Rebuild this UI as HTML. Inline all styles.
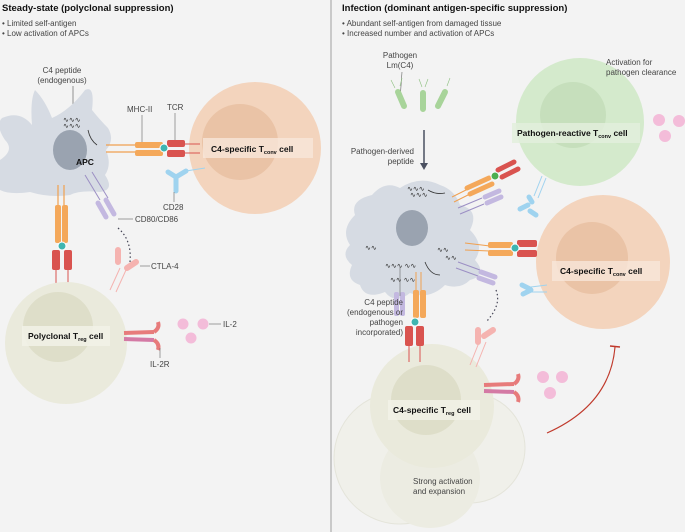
<!DOCTYPE html>
<html><head><meta charset="utf-8"><style>
html,body{margin:0;padding:0;background:#f3f3f3}
svg{display:block}
text{font-family:"Liberation Sans",sans-serif;fill:#333}
.t{font-size:9.5px;font-weight:bold;fill:#111}
.s{font-size:8px;fill:#444}
.b{font-size:8.5px;font-weight:bold;fill:#111}
</style></head><body>
<svg width="685" height="532" viewBox="0 0 685 532" xmlns="http://www.w3.org/2000/svg">
<rect width="685" height="532" fill="#f3f3f3"/>
<line x1="331" y1="0" x2="331" y2="532" stroke="#bbb" stroke-width="1.5"/>

<!-- LEFT -->
<text class="t" x="2" y="11">Steady-state (polyclonal suppression)</text>
<text class="s" x="2" y="26">• Limited self-antigen</text>
<text class="s" x="2" y="36">• Low activation of APCs</text>

<text class="s" x="62" y="73" text-anchor="middle">C4 peptide</text>
<text class="s" x="62" y="83" text-anchor="middle">(endogenous)</text>
<line x1="73" y1="86" x2="73" y2="118" stroke="#666" stroke-width="0.7"/>

<!-- APC left -->
<path d="M2,118 Q20,110 32,125 Q30,100 35,90 Q45,100 52,118 Q70,110 85,90 Q95,85 92,110 Q100,120 108,128 Q115,140 106,150 Q112,165 105,175 Q115,190 100,192 Q80,190 70,195 Q50,198 30,192 Q10,195 0,190 L0,160 Q15,150 5,140 Q-5,125 2,118Z" fill="#d6dbe3"/>
<ellipse cx="70" cy="150" rx="17" ry="20" fill="#9aa3b0"/>
<text class="b" x="76" y="165">APC</text>
<text x="63" y="122" font-size="7" fill="#a06b4b">∿∿∿</text>
<text x="63" y="128" font-size="7" fill="#a06b4b">∿∿∿</text>
<path d="M88,130 Q90,140 97,145" fill="none" stroke="#333" stroke-width="0.8"/>

<!-- Tconv left -->
<circle cx="255" cy="148" r="66" fill="#f3d4bd"/>
<circle cx="240" cy="142" r="38" fill="#eac3a6"/>
<rect x="203" y="138" width="110" height="20" fill="#f7e6d9" opacity="0.8"/>
<text class="b" x="211" y="152">C4-specific T<tspan font-size="5.5" dy="2">conv</tspan><tspan dy="-2"> cell</tspan></text>

<!-- MHC/TCR horizontal -->
<line x1="106" y1="145" x2="135" y2="145" stroke="#f0a050" stroke-width="1.2"/>
<line x1="106" y1="152" x2="135" y2="152" stroke="#f0a050" stroke-width="1.2"/>
<rect x="135" y="142" width="28" height="6" rx="2" fill="#f4a85a"/>
<rect x="135" y="150" width="28" height="6" rx="2" fill="#f4a85a"/>
<rect x="167" y="140" width="18" height="7" rx="2" fill="#d9534f"/>
<rect x="167" y="150" width="18" height="7" rx="2" fill="#d9534f"/>
<line x1="185" y1="144" x2="200" y2="144" stroke="#d9534f" stroke-width="1"/>
<line x1="185" y1="153" x2="200" y2="153" stroke="#d9534f" stroke-width="1"/>
<circle cx="164" cy="148" r="4" fill="#3fb5b0" stroke="#fff" stroke-width="1"/>
<text class="s" x="127" y="112">MHC-II</text>
<text class="s" x="167" y="110">TCR</text>
<line x1="142" y1="115" x2="142" y2="142" stroke="#666" stroke-width="0.6"/>
<line x1="175" y1="113" x2="175" y2="140" stroke="#666" stroke-width="0.6"/>

<!-- CD28 -->
<path d="M168,172 l8,5 l0,14 M176,177 l10,-6" stroke="#9fd3ef" stroke-width="5" fill="none" stroke-linecap="round"/>
<line x1="186" y1="171" x2="205" y2="168" stroke="#9fd3ef" stroke-width="1"/>
<text class="s" x="163" y="210">CD28</text>
<line x1="174" y1="192" x2="174" y2="202" stroke="#666" stroke-width="0.6"/>
<!-- CD80 -->
<line x1="85" y1="175" x2="100" y2="200" stroke="#9c8fc4" stroke-width="1"/>
<line x1="92" y1="172" x2="108" y2="198" stroke="#9c8fc4" stroke-width="1"/>
<path d="M98,203 l8,14 M106,200 l8,14" stroke="#c3b8e0" stroke-width="5" stroke-linecap="round"/>
<line x1="118" y1="219" x2="133" y2="219" stroke="#666" stroke-width="0.6"/>
<text class="s" x="135" y="222">CD80/CD86</text>
<path d="M118,228 Q132,240 130,262" fill="none" stroke="#445" stroke-width="1.2" stroke-dasharray="1.5,2.5"/>

<!-- vertical MHC/TCR -->
<line x1="58" y1="185" x2="58" y2="205" stroke="#f0a050" stroke-width="1.2"/>
<line x1="64" y1="185" x2="64" y2="205" stroke="#f0a050" stroke-width="1.2"/>
<rect x="55" y="205" width="6" height="38" rx="2" fill="#f4a85a"/>
<rect x="62" y="205" width="6" height="38" rx="2" fill="#f4a85a"/>
<rect x="52" y="250" width="8" height="20" rx="2" fill="#d9534f"/>
<rect x="64" y="250" width="8" height="20" rx="2" fill="#d9534f"/>
<line x1="56" y1="270" x2="56" y2="288" stroke="#d9534f"/>
<line x1="68" y1="270" x2="68" y2="288" stroke="#d9534f"/>
<circle cx="62" cy="246" r="4" fill="#3fb5b0" stroke="#fff" stroke-width="1"/>

<!-- Treg left -->
<circle cx="66" cy="343" r="61" fill="#eaeadc"/>
<circle cx="58" cy="327" r="35" fill="#dedec9"/>
<rect x="22" y="326" width="88" height="20" fill="#f2f2e8" opacity="0.85"/>
<text class="b" x="28" y="339">Polyclonal T<tspan font-size="5.5" dy="2">reg</tspan><tspan dy="-2"> cell</tspan></text>

<!-- CTLA-4 -->
<path d="M118,250 l0,12 M127,268 l9,-6" stroke="#f5b3b0" stroke-width="6" stroke-linecap="round"/>
<path d="M120,268 l-10,22 M126,270 l-10,22" stroke="#f5b3b0" stroke-width="1"/>
<line x1="140" y1="266" x2="150" y2="266" stroke="#666" stroke-width="0.6"/>
<text class="s" x="151" y="269">CTLA-4</text>
<!-- IL-2R -->
<path d="M124,333 l30,-1" stroke="#e77b7b" stroke-width="4"/>
<path d="M124,339 l30,1" stroke="#d47aa5" stroke-width="4"/>
<path d="M154,332 q6,-4 4,-10 M154,340 q6,4 4,10" stroke="#e77b7b" stroke-width="4" fill="none"/>
<line x1="160" y1="348" x2="160" y2="358" stroke="#666" stroke-width="0.6"/>
<text class="s" x="150" y="367">IL-2R</text>
<circle cx="183" cy="324" r="5.5" fill="#f3bcd9"/>
<circle cx="203" cy="324" r="5.5" fill="#f3bcd9"/>
<circle cx="191" cy="338" r="5.5" fill="#f3bcd9"/>
<line x1="209" y1="324" x2="221" y2="324" stroke="#666" stroke-width="0.6"/>
<text class="s" x="223" y="327">IL-2</text>

<!-- RIGHT -->
<text class="t" x="342" y="11">Infection (dominant antigen-specific suppression)</text>
<text class="s" x="342" y="26">• Abundant self-antigen from damaged tissue</text>
<text class="s" x="342" y="36">• Increased number and activation of APCs</text>
<text class="s" x="400" y="58" text-anchor="middle">Pathogen</text>
<text class="s" x="400" y="68" text-anchor="middle">Lm(C4)</text>
<line x1="402" y1="72" x2="400" y2="100" stroke="#666" stroke-width="0.6"/>
<path d="M398,92 l6,14 M423,93 l0,16 M445,92 l-7,14" stroke="#a8d49a" stroke-width="6" stroke-linecap="round"/>
<path d="M395,88 l-4,-8 M400,86 l2,-8 M422,87 l-3,-8 M425,87 l3,-8 M447,86 l3,-8" stroke="#8bbf7e" stroke-width="0.6"/>
<line x1="424" y1="130" x2="424" y2="165" stroke="#4a5060" stroke-width="1.5"/>
<path d="M420,163 l4,7 l4,-7z" fill="#4a5060"/>

<!-- green cell -->
<circle cx="580" cy="122" r="64" fill="#d4eacc"/>
<circle cx="573" cy="115" r="33" fill="#c6dfbc"/>
<rect x="512" y="123" width="128" height="20" fill="#e2efdc" opacity="0.85"/>
<text class="b" x="517" y="136">Pathogen-reactive T<tspan font-size="5.5" dy="2">conv</tspan><tspan dy="-2"> cell</tspan></text>
<text class="s" x="606" y="65">Activation for</text>
<text class="s" x="606" y="75">pathogen clearance</text>
<circle cx="659" cy="120" r="6" fill="#f3bcd9"/>
<circle cx="679" cy="121" r="6" fill="#f3bcd9"/>
<circle cx="665" cy="136" r="6" fill="#f3bcd9"/>

<text class="s" x="414" y="154" text-anchor="end">Pathogen-derived</text>
<text class="s" x="414" y="164" text-anchor="end">peptide</text>

<!-- APC right -->
<path d="M355,215 Q350,200 372,195 Q385,180 400,188 Q420,175 440,185 Q455,190 460,205 Q480,210 470,230 Q485,245 475,260 Q488,275 470,280 Q460,290 445,285 Q430,300 410,293 Q395,305 385,292 Q365,300 360,285 Q345,280 352,265 Q340,255 350,245 Q340,230 355,215Z" fill="#d6dbe3"/>
<ellipse cx="412" cy="228" rx="16" ry="18" fill="#9aa3b0"/>
<text x="407" y="191" font-size="7" fill="#4a9a5a">∿∿∿</text>
<text x="410" y="197" font-size="7" fill="#4a9a5a">∿∿∿</text>
<text x="437" y="252" font-size="7" fill="#a06b4b">∿∿</text>
<text x="445" y="260" font-size="7" fill="#a06b4b">∿∿</text>
<text x="385" y="268" font-size="7" fill="#a06b4b">∿∿∿ ∿∿</text>
<text x="365" y="250" font-size="7" fill="#a06b4b">∿∿</text>
<text x="390" y="282" font-size="7" fill="#a06b4b">∿∿ ∿∿</text>
<path d="M428,190 Q436,195 445,193" fill="none" stroke="#333" stroke-width="0.8"/>
<path d="M425,262 Q430,275 440,275" fill="none" stroke="#333" stroke-width="0.8"/>

<!-- diagonal receptors to green -->
<path d="M452,197 l28,-14 M454,202 l28,-14" stroke="#f0a050" stroke-width="1"/>
<path d="M467,188 l22,-10 M470,194 l22,-10" stroke="#f4a85a" stroke-width="5" stroke-linecap="round"/>
<path d="M498,170 l16,-8 M502,177 l16,-8" stroke="#d9534f" stroke-width="5" stroke-linecap="round"/>
<circle cx="495" cy="176" r="4" fill="#4caf50" stroke="#fff" stroke-width="1"/>
<path d="M458,208 l24,-10 M460,214 l24,-10" stroke="#9c8fc4" stroke-width="1"/>
<path d="M485,197 l14,-6 M487,203 l14,-6" stroke="#c3b8e0" stroke-width="5" stroke-linecap="round"/>
<path d="M532,202 l-3,-5 M530,211 l6,4 M528,205 l-8,4" stroke="#9fd3ef" stroke-width="5" stroke-linecap="round"/>
<path d="M534,196 l8,-20 M538,198 l8,-20" stroke="#9fd3ef" stroke-width="1"/>

<!-- C4 Tconv right -->
<circle cx="603" cy="262" r="67" fill="#f3d4bd"/>
<circle cx="592" cy="258" r="36" fill="#eac3a6"/>
<rect x="552" y="261" width="108" height="20" fill="#f7e6d9" opacity="0.8"/>
<text class="b" x="560" y="274">C4-specific T<tspan font-size="5.5" dy="2">conv</tspan><tspan dy="-2"> cell</tspan></text>
<path d="M465,243 l25,3 M465,250 l25,1" stroke="#f0a050" stroke-width="1"/>
<rect x="488" y="242" width="25" height="6" rx="2" fill="#f4a85a"/>
<rect x="488" y="250" width="25" height="6" rx="2" fill="#f4a85a"/>
<rect x="517" y="240" width="20" height="7" rx="2" fill="#d9534f"/>
<rect x="517" y="250" width="20" height="7" rx="2" fill="#d9534f"/>
<circle cx="515" cy="248" r="4" fill="#3fb5b0" stroke="#fff" stroke-width="1"/>
<path d="M458,262 l22,8 M456,268 l22,8" stroke="#9c8fc4" stroke-width="1"/>
<path d="M481,272 l14,5 M479,278 l14,5" stroke="#c3b8e0" stroke-width="5" stroke-linecap="round"/>
<path d="M522,285 l8,4 M523,294 l8,-4" stroke="#9fd3ef" stroke-width="5" stroke-linecap="round"/>
<path d="M531,287 l16,-2 M531,292 l16,0" stroke="#9fd3ef" stroke-width="1"/>
<path d="M496,290 Q502,305 486,322" fill="none" stroke="#445" stroke-width="1.2" stroke-dasharray="1.5,2.5"/>

<!-- Treg right with ghosts -->
<circle cx="400" cy="458" r="66" fill="#f0f0ea" stroke="#e4e4da" stroke-width="1"/>
<circle cx="470" cy="448" r="55" fill="#f0f0ea" stroke="#e4e4da" stroke-width="1"/>
<circle cx="430" cy="478" r="50" fill="#ececE2"/>
<circle cx="432" cy="406" r="62" fill="#eaeadc"/>
<circle cx="426" cy="400" r="35" fill="#dedec9"/>
<rect x="388" y="400" width="92" height="20" fill="#f2f2e8" opacity="0.85"/>
<text class="b" x="393" y="413">C4-specific T<tspan font-size="5.5" dy="2">reg</tspan><tspan dy="-2"> cell</tspan></text>
<text class="s" x="413" y="484">Strong activation</text>
<text class="s" x="413" y="494">and expansion</text>

<!-- vertical receptors right -->
<path d="M416,272 l0,20 M421,272 l0,20" stroke="#f0a050" stroke-width="1"/>
<rect x="413" y="290" width="6" height="28" rx="2" fill="#f4a85a"/>
<rect x="420" y="290" width="6" height="28" rx="2" fill="#f4a85a"/>
<rect x="405" y="326" width="8" height="20" rx="2" fill="#d9534f"/>
<rect x="416" y="326" width="8" height="20" rx="2" fill="#d9534f"/>
<line x1="409" y1="346" x2="409" y2="362" stroke="#d9534f"/>
<line x1="420" y1="346" x2="420" y2="362" stroke="#d9534f"/>
<circle cx="415" cy="322" r="4" fill="#3fb5b0" stroke="#fff" stroke-width="1"/>
<rect x="394" y="292" width="5" height="24" rx="2" fill="#c3b8e0"/>
<rect x="400" y="292" width="5" height="24" rx="2" fill="#c3b8e0"/>
<text class="s" x="403" y="305" text-anchor="end">C4 peptide</text>
<text class="s" x="403" y="315" text-anchor="end">(endogenous or</text>
<text class="s" x="403" y="325" text-anchor="end">pathogen</text>
<text class="s" x="403" y="335" text-anchor="end">incorporated)</text>
<line x1="400" y1="266" x2="400" y2="296" stroke="#666" stroke-width="0.6"/>

<path d="M478,330 l0,12 M484,336 l9,-6" stroke="#f5b3b0" stroke-width="6" stroke-linecap="round"/>
<path d="M480,340 l-10,25 M486,342 l-10,25" stroke="#f5b3b0" stroke-width="1"/>
<path d="M484,385 l30,-1" stroke="#e77b7b" stroke-width="4"/>
<path d="M484,391 l30,1" stroke="#d47aa5" stroke-width="4"/>
<path d="M514,384 q6,-4 4,-10 M514,392 q6,4 4,10" stroke="#e77b7b" stroke-width="4" fill="none"/>
<circle cx="543" cy="377" r="6" fill="#f3bcd9"/>
<circle cx="562" cy="377" r="6" fill="#f3bcd9"/>
<circle cx="550" cy="393" r="6" fill="#f3bcd9"/>
<path d="M547,433 Q610,405 615,347" fill="none" stroke="#c0392b" stroke-width="1.2"/>
<line x1="610" y1="346" x2="620" y2="347" stroke="#c0392b" stroke-width="1.4"/>
</svg>
</body></html>
